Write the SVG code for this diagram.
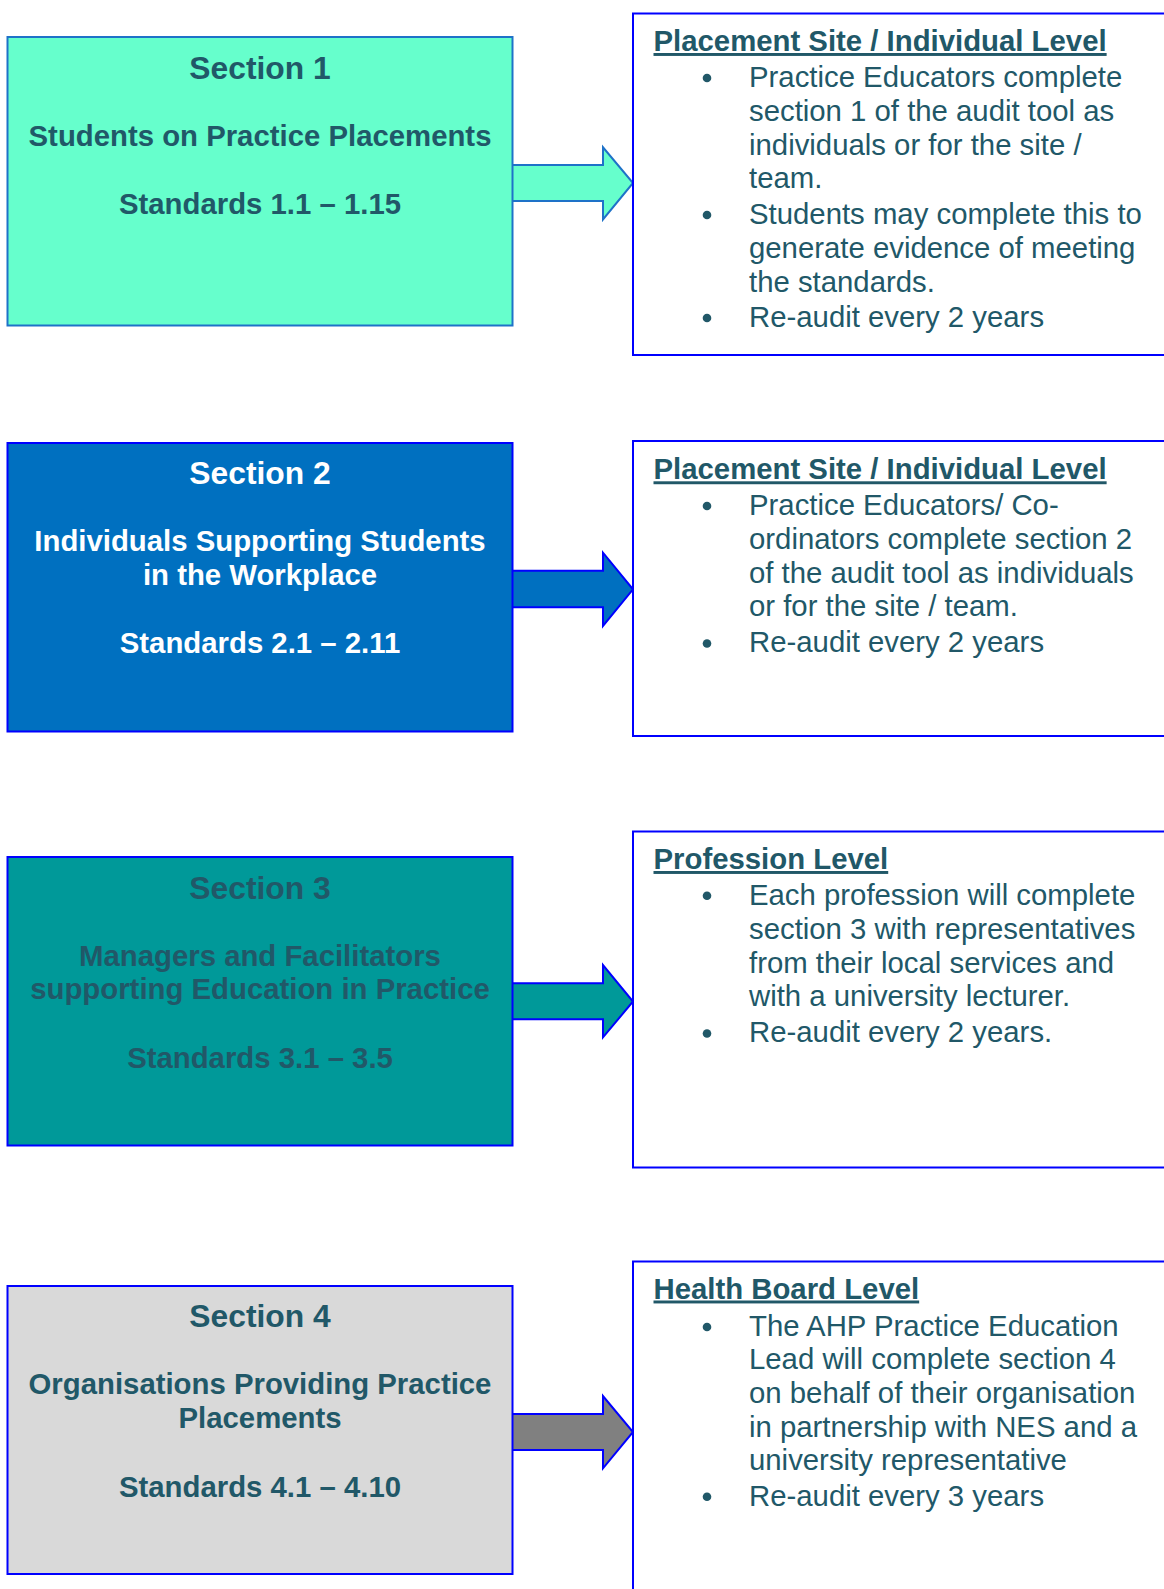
<svg xmlns="http://www.w3.org/2000/svg" width="1164" height="1589" viewBox="0 0 1164 1589">
<style>
.sec{stroke-width:2}
.lt{font-family:"Liberation Sans",Arial,sans-serif;font-size:29.33px;font-weight:bold;text-anchor:middle;fill:#215868}
.lt.t{font-size:31.8px}
.lt.w{fill:#FFFFFF}
.info{fill:#FFFFFF;stroke:#0000FF;stroke-width:2}
.hd{font-family:"Liberation Sans",Arial,sans-serif;font-size:29.33px;font-weight:bold;fill:#215868;text-decoration:underline}
.bt{font-family:"Liberation Sans",Arial,sans-serif;font-size:29.33px;fill:#215868}
.dot{fill:#215868}
.arr{stroke-width:2;stroke-linejoin:miter}
</style>
<rect width="1164" height="1589" fill="#FFFFFF"/>

<g id="connectors">
<polygon class="arr" fill="#66FFCC" stroke="#1E72C8" points="512,165 603,165 603,147.3 633,183 603,219.5 603,201 512,201"/>
<polygon class="arr" fill="#0070C0" stroke="#0000FF" points="512,570.7 603,570.7 603,552.7 633,589.3 603,626 603,607.3 512,607.3"/>
<polygon class="arr" fill="#009999" stroke="#0000FF" points="512,983.3 603,983.3 603,965 633,1001.5 603,1037.3 603,1019.3 512,1019.3"/>
<polygon class="arr" fill="#808080" stroke="#0000FF" points="512,1414 603,1414 603,1396 633,1432 603,1468.3 603,1450 512,1450"/>
</g>

<g id="section1">
<rect class="sec" x="7.5" y="37" width="505" height="288.5" fill="#66FFCC" stroke="#1E72C8"/>
<text class="lt t" x="260" y="78.5">Section 1</text>
<text class="lt" x="260" y="146">Students on Practice Placements</text>
<text class="lt" x="260" y="214">Standards 1.1 – 1.15</text>
</g>

<g id="section2">
<rect class="sec" x="7.5" y="443" width="505" height="288.5" fill="#0070C0" stroke="#0000FF"/>
<text class="lt t w" x="260" y="484">Section 2</text>
<text class="lt w" x="260" y="550.5">Individuals Supporting Students</text>
<text class="lt w" x="260" y="584.5">in the Workplace</text>
<text class="lt w" x="260" y="653">Standards 2.1 – 2.11</text>
</g>

<g id="section3">
<rect class="sec" x="7.5" y="857" width="505" height="288.5" fill="#009999" stroke="#0000FF"/>
<text class="lt t" x="260" y="898.5">Section 3</text>
<text class="lt" x="260" y="965.5">Managers and Facilitators</text>
<text class="lt" x="260" y="999">supporting Education in Practice</text>
<text class="lt" x="260" y="1067.5">Standards 3.1 – 3.5</text>
</g>

<g id="section4">
<rect class="sec" x="7.5" y="1286" width="505" height="288" fill="#D9D9D9" stroke="#0000FF"/>
<text class="lt t" x="260" y="1327">Section 4</text>
<text class="lt" x="260" y="1394">Organisations Providing Practice</text>
<text class="lt" x="260" y="1428">Placements</text>
<text class="lt" x="260" y="1497">Standards 4.1 – 4.10</text>
</g>

<g id="level1">
<rect class="info" x="633" y="13.5" width="600" height="341.5"/>
<text class="hd" x="653.5" y="51">Placement Site / Individual Level</text>
<circle class="dot" cx="707" cy="78" r="4.3"/>
<text class="bt" x="749" y="86.8">Practice Educators complete</text>
<text class="bt" x="749" y="121">section 1 of the audit tool as</text>
<text class="bt" x="749" y="154.7">individuals or for the site /</text>
<text class="bt" x="749" y="188.3">team.</text>
<circle class="dot" cx="707" cy="215" r="4.3"/>
<text class="bt" x="749" y="223.7">Students may complete this to</text>
<text class="bt" x="749" y="257.7">generate evidence of meeting</text>
<text class="bt" x="749" y="291.6">the standards.</text>
<circle class="dot" cx="707" cy="318" r="4.3"/>
<text class="bt" x="749" y="326.7">Re-audit every 2 years</text>
</g>

<g id="level2">
<rect class="info" x="633" y="441" width="600" height="295"/>
<text class="hd" x="653.5" y="479.3">Placement Site / Individual Level</text>
<circle class="dot" cx="707" cy="506" r="4.3"/>
<text class="bt" x="749" y="514.8">Practice Educators/ Co-</text>
<text class="bt" x="749" y="549.2">ordinators complete section 2</text>
<text class="bt" x="749" y="582.8">of the audit tool as individuals</text>
<text class="bt" x="749" y="616.4">or for the site / team.</text>
<circle class="dot" cx="707" cy="643.5" r="4.3"/>
<text class="bt" x="749" y="652.3">Re-audit every 2 years</text>
</g>

<g id="level3">
<rect class="info" x="633" y="831.5" width="600" height="336"/>
<text class="hd" x="653.5" y="869">Profession Level</text>
<circle class="dot" cx="707" cy="895.8" r="4.3"/>
<text class="bt" x="749" y="904.6">Each profession will complete</text>
<text class="bt" x="749" y="938.9">section 3 with representatives</text>
<text class="bt" x="749" y="972.9">from their local services and</text>
<text class="bt" x="749" y="1006.3">with a university lecturer.</text>
<circle class="dot" cx="707" cy="1033.5" r="4.3"/>
<text class="bt" x="749" y="1042.3">Re-audit every 2 years.</text>
</g>

<g id="level4">
<rect class="info" x="633" y="1261.5" width="600" height="400"/>
<text class="hd" x="653.5" y="1298.5">Health Board Level</text>
<circle class="dot" cx="707" cy="1327" r="4.3"/>
<text class="bt" x="749" y="1335.7">The AHP Practice Education</text>
<text class="bt" x="749" y="1369">Lead will complete section 4</text>
<text class="bt" x="749" y="1402.8">on behalf of their organisation</text>
<text class="bt" x="749" y="1436.8">in partnership with NES and a</text>
<text class="bt" x="749" y="1470.2">university representative</text>
<circle class="dot" cx="707" cy="1496.7" r="4.3"/>
<text class="bt" x="749" y="1505.5">Re-audit every 3 years</text>
</g>
</svg>
